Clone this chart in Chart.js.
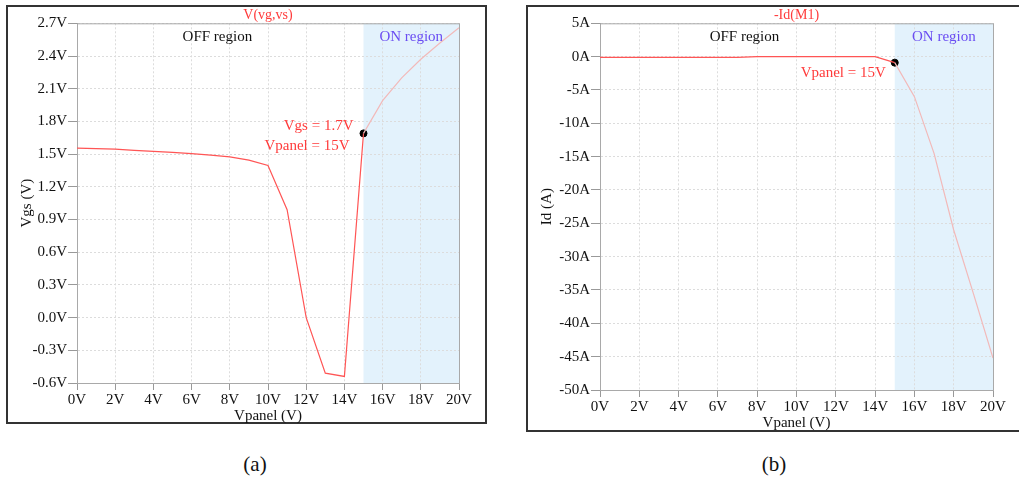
<!DOCTYPE html>
<html>
<head>
<meta charset="utf-8">
<script src="https://cdn.jsdelivr.net/npm/chart.js@4/dist/chart.umd.min.js"></script>
<style>
  body { margin: 0; background: #fff; width: 1019px; height: 479px; overflow: hidden; position: relative; font-family: 'Liberation Serif', serif; }
  .frame { position: absolute; box-sizing: border-box; border: 2px solid #333; }
  .cv { position: absolute; top: 0; }
  .cap { position: absolute; font-size: 21px; color: #111; transform: translate(-50%, -50%); }
</style>
</head>
<body>
<div class="frame" style="left:6px;top:5px;width:481px;height:419px"></div>
<div class="frame" style="left:526px;top:5px;width:500px;height:427px"></div>
<canvas id="chartA" class="cv" style="left:0px" width="500" height="440"></canvas>
<canvas id="chartB" class="cv" style="left:520px" width="499" height="440"></canvas>
<div class="cap" style="left:255px;top:464px">(a)</div>
<div class="cap" style="left:774px;top:464px">(b)</div>
<script>
// panel data
const vpanel = [0, 1, 2, 3, 4, 5, 6, 7, 8, 9, 10, 11, 12, 13, 14, 15, 16, 17, 18, 19, 20];
const vgs = [1.555, 1.55, 1.545, 1.535, 1.525, 1.515, 1.505, 1.49, 1.475, 1.445, 1.395, 0.99, 0.0, -0.51, -0.54, 1.69, 1.99, 2.2, 2.37, 2.52, 2.66];
const idM1 = [-0.1, -0.1, -0.1, -0.1, -0.1, -0.1, -0.1, -0.1, 0, 0, 0, 0, 0, 0, 0, -0.9, -6.0, -14.5, -26.0, -35.5, -45.2];

const xTicks = [0, 2, 4, 6, 8, 10, 12, 14, 16, 18, 20];
const vgsTicks = [-0.6, -0.3, 0.0, 0.3, 0.6, 0.9, 1.2, 1.5, 1.8, 2.1, 2.4, 2.7];
const idTicks = [-50, -45, -40, -35, -30, -25, -20, -15, -10, -5, 0, 5];

const onStart = 15;
const onEnd = 20;
const offLabelX = 7.35;
const markerA = [15, 1.69];
const markerB = [15, -0.9];

const FONT = "'Liberation Serif', serif";
const RED = 'rgb(255,85,85)';
const PALE = 'rgb(242,185,185)';

function points(xs, ys) {
    let out = [];
    for (let i = 0; i < xs.length; i++) {
        out.push({x: xs[i], y: ys[i]});
    }
    return out;
}

// shaded ON region, region labels, plot border and notes
function panelPlugin(notes) {
    return {
        id: 'panel',
        beforeDraw(chart) {
            const {ctx, chartArea, scales} = chart;
            const x0 = scales.x.getPixelForValue(onStart);
            const x1 = scales.x.getPixelForValue(onEnd);
            ctx.save();
            ctx.fillStyle = '#e3f2fc';
            ctx.fillRect(x0, chartArea.top, x1 - x0, chartArea.bottom - chartArea.top);
            ctx.restore();
        },
        beforeDatasetsDraw(chart) {
            const {ctx, chartArea, scales} = chart;
            ctx.save();
            ctx.strokeStyle = '#a9a9a9';
            ctx.lineWidth = 1;
            ctx.strokeRect(chartArea.left + 0.5, chartArea.top + 0.5, chartArea.right - chartArea.left, chartArea.bottom - chartArea.top);
            ctx.font = '15px ' + FONT;
            ctx.textAlign = 'center';
            ctx.textBaseline = 'middle';
            ctx.fillStyle = '#111';
            ctx.fillText('OFF region', scales.x.getPixelForValue(offLabelX), chartArea.top + 14);
            ctx.fillStyle = '#6a4df2';
            ctx.fillText('ON region', scales.x.getPixelForValue((onStart + onEnd) / 2), chartArea.top + 14);
            ctx.restore();
        },
        afterDatasetsDraw(chart) {
            const {ctx} = chart;
            const pt = chart.getDatasetMeta(1).data[0];
            ctx.save();
            ctx.font = '15px ' + FONT;
            ctx.textAlign = 'right';
            ctx.textBaseline = 'middle';
            ctx.fillStyle = '#ff3b3b';
            for (let i = 0; i < notes.length; i++) {
                ctx.fillText(notes[i].text, pt.x + notes[i].dx, pt.y + notes[i].dy);
            }
            ctx.restore();
        }
    };
}

function makeChart(id, title, yTitle, xs, ys, marker, yMin, yMax, yTickVals, unit, digits, pad, notes) {
    return new Chart(document.getElementById(id), {
        type: 'line',
        data: {
            datasets: [{
                data: points(xs, ys),
                borderWidth: 1.2,
                borderColor: RED,
                pointRadius: 0,
                tension: 0,
                segment: {
                    borderColor: c => c.p0.parsed.x >= onStart ? PALE : RED
                }
            }, {
                data: [{x: marker[0], y: marker[1]}],
                showLine: false,
                pointRadius: 3.5,
                pointBackgroundColor: '#000',
                pointBorderColor: '#000'
            }]
        },
        options: {
            responsive: false,
            animation: false,
            events: [],
            layout: {padding: pad},
            plugins: {
                legend: {display: false},
                tooltip: {enabled: false},
                title: {
                    display: true,
                    text: title,
                    fullSize: false,
                    color: '#ff3b3b',
                    font: {family: FONT, size: 14, weight: 'normal'},
                    padding: {top: 6.5, bottom: 0}
                }
            },
            scales: {
                x: {
                    type: 'linear',
                    min: 0,
                    max: 20,
                    afterBuildTicks: s => { s.ticks = xTicks.map(v => ({value: v})); },
                    afterFit: s => { s.height = 45; },
                    ticks: {
                        color: '#111',
                        font: {family: FONT, size: 15},
                        padding: 1,
                        maxRotation: 0,
                        callback: v => v + 'V'
                    },
                    grid: {color: '#dcdcdc', tickColor: '#999', tickLength: 7},
                    border: {color: '#999', dash: [2, 2]},
                    title: {
                        display: true,
                        text: 'Vpanel (V)',
                        color: '#111',
                        font: {family: FONT, size: 15},
                        padding: {top: 0, bottom: 3}
                    }
                },
                y: {
                    min: yMin,
                    max: yMax,
                    afterBuildTicks: s => { s.ticks = yTickVals.map(v => ({value: v})); },
                    afterFit: s => { s.width = pad.yw; },
                    ticks: {
                        color: '#111',
                        font: {family: FONT, size: 15},
                        padding: 1,
                        callback: v => (Math.abs(v) < 1e-9 ? 0 : v).toFixed(digits) + unit
                    },
                    grid: {color: '#dcdcdc', tickColor: '#999', tickLength: 9},
                    border: {color: '#999', dash: [2, 2]},
                    title: {
                        display: true,
                        text: yTitle,
                        color: '#111',
                        font: {family: FONT, size: 15},
                        padding: {top: 8, bottom: 0}
                    }
                }
            }
        },
        plugins: [panelPlugin(notes)]
    });
}

makeChart('chartA', 'V(vg,vs)', 'Vgs (V)', vpanel, vgs, markerA, -0.6, 2.7, vgsTicks, 'V', 1,
    {left: 10, right: 41, top: 0, bottom: 12, yw: 67},
    [{text: 'Vgs = 1.7V', dx: -10, dy: -7}, {text: 'Vpanel = 15V', dx: -14, dy: 13}]);

makeChart('chartB', '-Id(M1)', 'Id (A)', vpanel, idM1, markerB, -50, 5, idTicks, 'A', 0,
    {left: 10, right: 26, top: 0, bottom: 5, yw: 70},
    [{text: 'Vpanel = 15V', dx: -9, dy: 10}]);
</script>
</body>
</html>
